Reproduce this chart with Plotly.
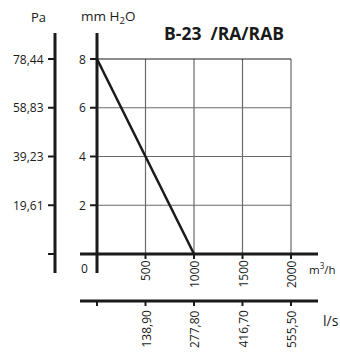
import plotly.graph_objects as go

# ---- data ----
flow_m3h = [0, 250, 500, 750, 1000]
pressure_mmH2O = [8, 6, 4, 2, 0]
x_ticks = [500, 1000, 1500, 2000]
ls_labels = ["138,90", "277,80", "416,70", "555,50"]
y_ticks = [2, 4, 6, 8]
pa_labels = ["19,61", "39,23", "58,83", "78,44"]
title = "B-23  /RA/RAB"

W, H = 340, 354
# data <-> pixel mapping (pixel of x=0 is 97, x=2000 is 291; y=8 at 59, y=0 at 254)
SX = (291 - 97) / 2000.0
SY = (254 - 59) / 8.0
X0 = -97 / SX
X1 = X0 + W / SX
Y1 = 8 + 59 / SY
Y0 = Y1 - H / SY


def dx(px):
    return X0 + px / SX


def dy(py):
    return Y1 - py / SY


FONT = "Open Sans"
BLACK = "#1a1a1a"
GRID = "#6a6a6a"

fig = go.Figure()
fig.add_trace(go.Scatter(x=flow_m3h, y=pressure_mmH2O, mode="lines",
                         line=dict(color=BLACK, width=2.5), hoverinfo="skip",
                         showlegend=False))

shapes = []
ann = []


def line(x0, y0, x1, y1, color=BLACK, width=1):
    shapes.append(dict(type="line", xref="x", yref="y", x0=x0, y0=y0, x1=x1, y1=y1,
                       line=dict(color=color, width=width), layer="below"))


def text(x, y, s, size=12, xanchor="center", yanchor="middle", angle=0, bold=False):
    ann.append(dict(x=x, y=y, xref="x", yref="y", text=(f"<b>{s}</b>" if bold else s),
                    showarrow=False, xanchor=xanchor, yanchor=yanchor, textangle=angle,
                    font=dict(family=FONT, size=size, color=BLACK)))


xmax = x_ticks[-1]
ymax = y_ticks[-1]
# grid
for xv in x_ticks:
    line(xv, 0, xv, ymax, GRID, 1.2)
for yv in y_ticks:
    line(0, yv, xmax, yv, BLACK if yv == ymax else GRID, 1.2)

# main axes
line(0, dy(33), 0, dy(273), BLACK, 3)
line(dx(80), 0, dx(318), 0, BLACK, 3)
for yv in y_ticks:
    line(dx(90), yv, 0, yv, BLACK, 2)
    text(dx(88), yv, str(yv), xanchor="right")
for xv in x_ticks:
    line(xv, 0, xv, dy(259), BLACK, 2)
    text(xv, dy(258), str(xv), angle=-90, yanchor="top")
text(dx(84), dy(268), "0")
text(dx(307), dy(268), "m<sup>3</sup>/h", size=11.5, xanchor="left")

# Pa axis
line(dx(55), dy(33), dx(55), dy(273), BLACK, 3)
for yv, lab in zip(y_ticks, pa_labels):
    line(dx(48), yv, dx(55), yv, BLACK, 2)
    text(dx(46), yv, lab, xanchor="right")
line(dx(48), 0, dx(55), 0, BLACK, 2)

# l/s axis
ls_y = dy(301)
line(dx(80), ls_y, dx(318), ls_y, BLACK, 3)
line(0, ls_y, 0, dy(306), BLACK, 2)
for xv, lab in zip(x_ticks, ls_labels):
    line(xv, ls_y, xv, dy(306), BLACK, 2)
    text(xv, dy(308), lab, angle=-90, yanchor="top")
text(dx(321), dy(320), "l/s", size=14, xanchor="left")

# headers
text(dx(38), dy(17), "Pa", size=13)
text(dx(79), dy(17), "mm H<sub>2</sub>O", size=13.5, xanchor="left")
text(dx(224), dy(33), title, size=17.5, bold=True)

fig.update_layout(
    width=W, height=H, margin=dict(l=0, r=0, t=0, b=0),
    paper_bgcolor="white", plot_bgcolor="white",
    xaxis=dict(range=[X0, X1], visible=False, fixedrange=True),
    yaxis=dict(range=[Y0, Y1], visible=False, fixedrange=True),
    shapes=shapes, annotations=ann, showlegend=False,
)
fig.write_html("out.html", config={"displayModeBar": False},
               post_script="document.body.style.margin='0';document.body.style.overflow='hidden';")
